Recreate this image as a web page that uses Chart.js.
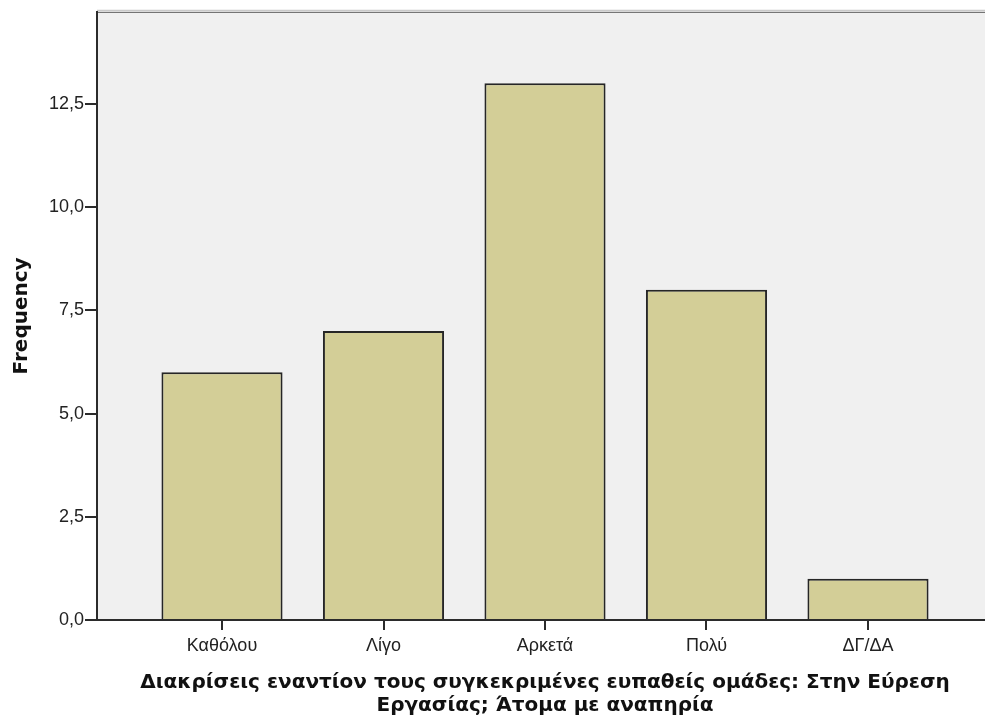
<!DOCTYPE html>
<html>
<head>
<meta charset="utf-8">
<script src="https://cdn.jsdelivr.net/npm/chart.js@4/dist/chart.umd.min.js"></script>
<style>
html, body { margin: 0; padding: 0; background: #fff; overflow: hidden; }
canvas { display: block; }
</style>
</head>
<body>
<canvas id="chart" width="993" height="720"></canvas>
<script>
const categories = ['Καθόλου', 'Λίγο', 'Αρκετά', 'Πολύ', 'ΔΓ/ΔΑ'];
const frequencies = [6, 7, 13, 8, 1];
const yTicks = [0, 2.5, 5, 7.5, 10, 12.5];
const yMax = 14.73;
const xTitle = ['Διακρίσεις εναντίον τους συγκεκριμένες ευπαθείς ομάδες: Στην Εύρεση', 'Εργασίας; Άτομα με αναπηρία'];
const yTitle = 'Frequency';

Chart.defaults.font.family = '"Liberation Sans", Arial, sans-serif';
Chart.defaults.color = '#222';

// grey plot background and top frame line, SPSS style
const frame = {
    id: 'frame',
    beforeDraw(chart) {
        const { ctx, chartArea: a } = chart;
        ctx.save();
        ctx.fillStyle = '#f0f0f0';
        ctx.fillRect(a.left, a.top, a.right - a.left, a.bottom - a.top);
        ctx.strokeStyle = '#bbb';
        ctx.lineWidth = 1;
        ctx.beginPath();
        ctx.moveTo(a.left, a.top - 1.5);
        ctx.lineTo(a.right, a.top - 1.5);
        ctx.stroke();
        ctx.strokeStyle = '#555';
        ctx.beginPath();
        ctx.moveTo(a.left, a.top + 0.5);
        ctx.lineTo(a.right, a.top + 0.5);
        ctx.stroke();
        ctx.restore();
    }
};

const titleFont = '"DejaVu Sans", Verdana, sans-serif';

const ctx = document.getElementById('chart').getContext('2d');
new Chart(ctx, {
    type: 'bar',
    data: {
        datasets: [{
            label: yTitle,
            data: frequencies.map((v, i) => ({ x: i, y: v })),
            backgroundColor: '#d3ce97',
            borderColor: '#262626',
            borderWidth: 2,
            categoryPercentage: 1,
            barPercentage: 0.75
        }]
    },
    options: {
        responsive: false,
        animation: false,
        layout: { padding: { top: 9, left: 0, right: 0, bottom: 0 } },
        plugins: {
            legend: { display: false },
            tooltip: { enabled: false }
        },
        scales: {
            x: {
                type: 'linear',
                offset: false,
                min: -0.774,
                max: categories.length - 1 + 0.774,
                afterBuildTicks: s => { s.ticks = categories.map((c, i) => ({ value: i })); },
                afterFit: s => { s.height = 100; },
                ticks: {
                    includeBounds: false,
                    autoSkip: false,
                    maxRotation: 0,
                    padding: 5,
                    color: '#222',
                    font: { size: 18 },
                    callback: v => categories[v]
                },
                grid: { display: true, offset: false, drawOnChartArea: false, drawTicks: true, tickLength: 10, color: '#2b2b2b', lineWidth: 2 },
                border: { display: true, color: '#2b2b2b', width: 2 },
                title: {
                    display: true,
                    text: xTitle,
                    color: '#111',
                    font: { family: titleFont, size: 20, weight: 'bold', lineHeight: 1.15 },
                    padding: { top: 0, bottom: 3 }
                }
            },
            y: {
                min: 0,
                max: yMax,
                afterBuildTicks: s => { s.ticks = yTicks.map(v => ({ value: v })); },
                afterFit: s => { s.width = 97; },
                ticks: {
                    includeBounds: false,
                    padding: 1,
                    color: '#222',
                    font: { size: 18 },
                    callback: v => v.toFixed(1).replace('.', ',')
                },
                grid: { display: true, drawOnChartArea: false, drawTicks: true, tickLength: 12, color: '#2b2b2b', lineWidth: 2 },
                border: { display: true, color: '#2b2b2b', width: 2 },
                title: {
                    display: true,
                    text: yTitle,
                    color: '#111',
                    font: { family: titleFont, size: 20, weight: 'bold' },
                    padding: { top: 10, bottom: 0 }
                }
            }
        }
    },
    plugins: [frame]
});
</script>
</body>
</html>
